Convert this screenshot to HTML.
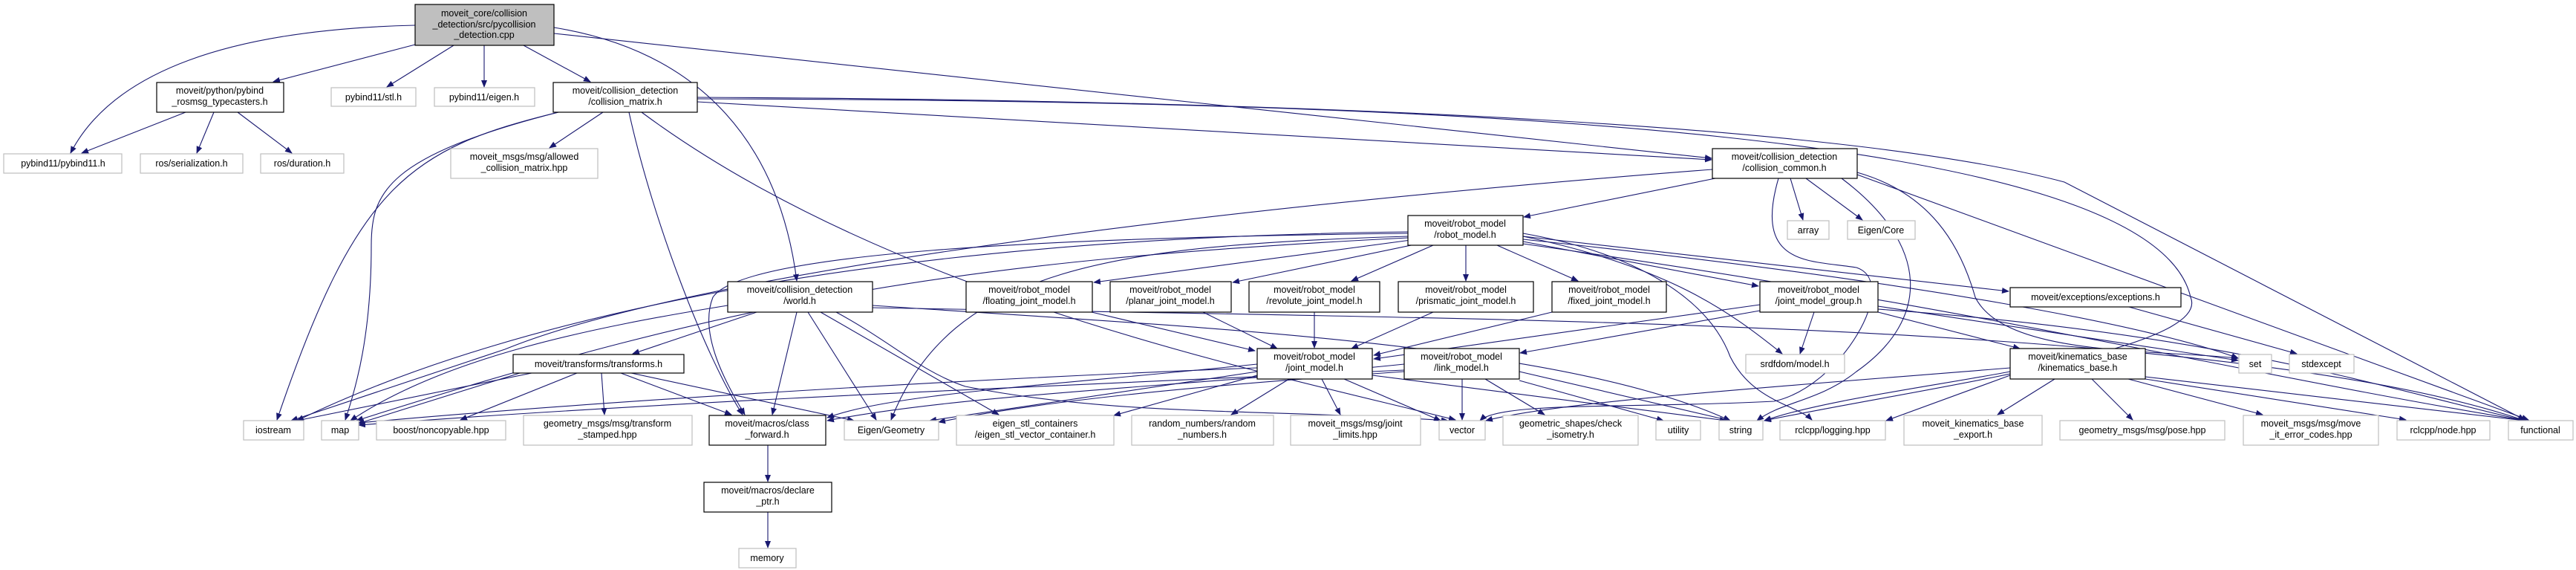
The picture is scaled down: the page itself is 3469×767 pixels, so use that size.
<!DOCTYPE html>
<html><head><meta charset="utf-8"><style>
html,body{margin:0;padding:0;background:#fff}
svg{display:block}
text{font-family:"Liberation Sans","DejaVu Sans",sans-serif;font-size:12.5px;fill:#000;text-anchor:middle}
.e{fill:none;stroke:#191970;stroke-width:1.1}
.b{fill:#fff;stroke:#000;stroke-width:1.2}
.g{fill:#fff;stroke:#bfbfbf;stroke-width:1.2}
</style></head><body>
<svg width="3469" height="767" viewBox="0 0 3469 767" xmlns="http://www.w3.org/2000/svg">
<defs><marker id="a" markerWidth="10" markerHeight="8" refX="9" refY="4" orient="auto" markerUnits="userSpaceOnUse"><path d="M0,0 L10,4 L0,8 z" fill="#191970"/></marker></defs>
<g marker-end="url(#a)" class="e">
<path class="e" d="M559,34 C300,40 150,100 95,206"/>
<path class="e" d="M559,60 L368,110"/>
<path class="e" d="M611,61 L521,117"/>
<path class="e" d="M652,61 L652,117"/>
<path class="e" d="M705,61 L795,110"/>
<path class="e" d="M746,37 C950,70 1050,200 1073,378"/>
<path class="e" d="M746,45 L2305,213"/>
<path class="e" d="M250,151 L110,206"/>
<path class="e" d="M288,151 L265,206"/>
<path class="e" d="M320,151 L393,206"/>
<path class="e" d="M812,151 L740,199"/>
<path class="e" d="M939,137 L2305,215"/>
<path class="e" d="M939,131 C1800,135 2500,170 2780,245 L3400,565"/>
<path class="e" d="M939,133 C2000,135 2900,180 2950,400 C2980,470 2600,520 2376,566"/>
<path class="e" d="M752,151 C550,200 480,250 373,565"/>
<path class="e" d="M752,151 C520,210 500,260 500,330 C500,450 480,520 465,565"/>
<path class="e" d="M847,151 C880,300 950,480 1000,558"/>
<path class="e" d="M864,151 C1200,400 1700,500 1960,565"/>
<path class="e" d="M2501,235 L3405,565"/>
<path class="e" d="M2310,240 L2052,292"/>
<path class="e" d="M2411,240 L2428,296"/>
<path class="e" d="M2432,240 L2508,296"/>
<path class="e" d="M2395,240 C2360,360 2440,350 2500,360 C2560,380 2480,520 2389,540 C2200,550 2020,540 1993,566"/>
<path class="e" d="M2501,232 C2600,260 2640,330 2660,400 C2700,480 2900,470 3014,482"/>
<path class="e" d="M2480,240 C2600,330 2600,430 2500,500 C2450,540 2400,540 2366,566"/>
<path class="e" d="M2306,228 C1500,290 900,380 680,470 L392,566"/>
<path class="e" d="M1900,323 L1473,380"/>
<path class="e" d="M1910,328 L1660,380"/>
<path class="e" d="M1930,330 L1820,378"/>
<path class="e" d="M1974,330 L1974,378"/>
<path class="e" d="M2016,330 L2125,378"/>
<path class="e" d="M2051,325 L2368,385"/>
<path class="e" d="M2051,318 L2705,392"/>
<path class="e" d="M2051,318 C2250,360 2330,420 2400,476"/>
<path class="e" d="M2051,314 C2200,340 2300,400 2330,480 C2360,540 2420,545 2440,565"/>
<path class="e" d="M1896,318 C1500,330 1280,360 1200,565"/>
<path class="e" d="M1896,314 C1400,320 1000,340 960,400 C940,450 980,520 1003,558"/>
<path class="e" d="M1896,312 C1200,320 700,420 400,566"/>
<path class="e" d="M1896,320 C1300,350 1000,400 480,566"/>
<path class="e" d="M2051,322 C2600,380 2900,440 3014,482"/>
<path class="e" d="M2051,328 C2700,420 3000,500 3400,566"/>
<path class="e" d="M1019,420 L852,476"/>
<path class="e" d="M980,411 C800,440 600,480 472,566"/>
<path class="e" d="M1073,420 L1040,558"/>
<path class="e" d="M1088,420 L1180,565"/>
<path class="e" d="M1105,420 L1345,558"/>
<path class="e" d="M1126,420 C1200,460 1240,500 1300,520 C1500,560 1700,550 1950,566"/>
<path class="e" d="M1175,411 C1600,440 2100,460 2330,566"/>
<path class="e" d="M1175,414 C2000,430 3000,430 3400,566"/>
<path class="e" d="M1470,420 L1690,472"/>
<path class="e" d="M1620,420 L1720,469"/>
<path class="e" d="M1770,420 L1770,468"/>
<path class="e" d="M1930,420 L1820,469"/>
<path class="e" d="M2090,420 L1850,478"/>
<path class="e" d="M2370,410 L1850,483"/>
<path class="e" d="M2370,418 L2047,475"/>
<path class="e" d="M2529,420 L2720,469"/>
<path class="e" d="M2443,420 L2424,476"/>
<path class="e" d="M2529,412 L3014,485"/>
<path class="e" d="M2529,416 C3000,450 3200,520 3400,566"/>
<path class="e" d="M1693,490 C1400,520 1200,530 1114,562"/>
<path class="e" d="M1693,500 L1252,566"/>
<path class="e" d="M1693,505 L1500,559"/>
<path class="e" d="M1736,510 L1658,558"/>
<path class="e" d="M1780,510 L1805,558"/>
<path class="e" d="M1810,510 L1940,566"/>
<path class="e" d="M1848,505 L2325,566"/>
<path class="e" d="M1693,495 C1300,510 800,540 472,570"/>
<path class="e" d="M1891,490 C1600,520 1300,530 1114,566"/>
<path class="e" d="M1891,500 C1600,520 1400,540 1264,568"/>
<path class="e" d="M1969,510 L1969,565"/>
<path class="e" d="M2000,510 L2080,558"/>
<path class="e" d="M2046,512 L2240,566"/>
<path class="e" d="M2046,500 L2330,566"/>
<path class="e" d="M1891,498 C1400,520 900,540 483,572"/>
<path class="e" d="M2767,510 L2690,558"/>
<path class="e" d="M2817,510 L2872,565"/>
<path class="e" d="M2866,510 L3047,558"/>
<path class="e" d="M2889,510 L3240,565"/>
<path class="e" d="M2889,507 L3400,566"/>
<path class="e" d="M2707,505 L2540,566"/>
<path class="e" d="M2707,500 C2600,520 2450,540 2376,566"/>
<path class="e" d="M2707,495 C2400,520 2100,540 2001,566"/>
<path class="e" d="M2867,413 L3093,476"/>
<path class="e" d="M716,502 L400,566"/>
<path class="e" d="M700,502 L482,570"/>
<path class="e" d="M777,502 L620,565"/>
<path class="e" d="M810,502 L814,558"/>
<path class="e" d="M836,502 L985,558"/>
<path class="e" d="M850,502 L1150,566"/>
<path class="e" d="M1034,599 L1034,648"/>
<path class="e" d="M1034,689 L1034,737"/>
</g>
<g>
<rect x="559" y="6" width="187" height="55" fill="#bfbfbf" stroke="#000" stroke-width="1.2"/>
<text x="652" y="22">moveit_core/collision</text><text x="652" y="37">_detection/src/pycollision</text><text x="652" y="51">_detection.cpp</text>
<rect class="b" x="211" y="111" width="171" height="40"/><text x="296" y="126">moveit/python/pybind</text><text x="296" y="141">_rosmsg_typecasters.h</text>
<rect class="g" x="446" y="118" width="114" height="25"/><text x="503" y="135">pybind11/stl.h</text>
<rect class="g" x="585" y="118" width="135" height="25"/><text x="652" y="135">pybind11/eigen.h</text>
<rect class="b" x="745" y="111" width="194" height="40"/><text x="842" y="126">moveit/collision_detection</text><text x="842" y="141">/collision_matrix.h</text>
<rect class="g" x="5" y="207" width="159" height="26"/><text x="85" y="224">pybind11/pybind11.h</text>
<rect class="g" x="189" y="207" width="138" height="26"/><text x="258" y="224">ros/serialization.h</text>
<rect class="g" x="351" y="207" width="112" height="26"/><text x="407" y="224">ros/duration.h</text>
<rect class="g" x="607" y="200" width="198" height="40"/><text x="706" y="215">moveit_msgs/msg/allowed</text><text x="706" y="230">_collision_matrix.hpp</text>
<rect class="b" x="2306" y="200" width="195" height="40"/><text x="2403" y="215">moveit/collision_detection</text><text x="2403" y="230">/collision_common.h</text>
<rect class="b" x="1896" y="290" width="155" height="40"/><text x="1973" y="305">moveit/robot_model</text><text x="1973" y="320">/robot_model.h</text>
<rect class="g" x="2407" y="297" width="56" height="25"/><text x="2435" y="314">array</text>
<rect class="g" x="2488" y="297" width="91" height="25"/><text x="2533" y="314">Eigen/Core</text>
<rect class="b" x="980" y="379" width="195" height="41"/><text x="1077" y="394">moveit/collision_detection</text><text x="1077" y="409">/world.h</text>
<rect class="b" x="1301" y="379" width="170" height="41"/><text x="1386" y="394">moveit/robot_model</text><text x="1386" y="409">/floating_joint_model.h</text>
<rect class="b" x="1495" y="379" width="163" height="41"/><text x="1576" y="394">moveit/robot_model</text><text x="1576" y="409">/planar_joint_model.h</text>
<rect class="b" x="1682" y="379" width="176" height="41"/><text x="1770" y="394">moveit/robot_model</text><text x="1770" y="409">/revolute_joint_model.h</text>
<rect class="b" x="1883" y="379" width="182" height="41"/><text x="1974" y="394">moveit/robot_model</text><text x="1974" y="409">/prismatic_joint_model.h</text>
<rect class="b" x="2090" y="379" width="154" height="41"/><text x="2167" y="394">moveit/robot_model</text><text x="2167" y="409">/fixed_joint_model.h</text>
<rect class="b" x="2370" y="379" width="159" height="41"/><text x="2449" y="394">moveit/robot_model</text><text x="2449" y="409">/joint_model_group.h</text>
<rect class="b" x="2707" y="387" width="230" height="26"/><text x="2822" y="404">moveit/exceptions/exceptions.h</text>
<rect class="b" x="691" y="477" width="230" height="25"/><text x="806" y="494">moveit/transforms/transforms.h</text>
<rect class="b" x="1693" y="469" width="155" height="41"/><text x="1770" y="484">moveit/robot_model</text><text x="1770" y="499">/joint_model.h</text>
<rect class="b" x="1891" y="469" width="155" height="41"/><text x="1968" y="484">moveit/robot_model</text><text x="1968" y="499">/link_model.h</text>
<rect class="g" x="2351" y="477" width="133" height="25"/><text x="2417" y="494">srdfdom/model.h</text>
<rect class="b" x="2707" y="469" width="182" height="41"/><text x="2798" y="484">moveit/kinematics_base</text><text x="2798" y="499">/kinematics_base.h</text>
<rect class="g" x="3015" y="477" width="44" height="25"/><text x="3037" y="494">set</text>
<rect class="g" x="3083" y="477" width="87" height="25"/><text x="3126" y="494">stdexcept</text>
<rect class="g" x="328" y="566" width="81" height="26"/><text x="368" y="583">iostream</text>
<rect class="g" x="433" y="566" width="50" height="26"/><text x="458" y="583">map</text>
<rect class="g" x="507" y="566" width="174" height="26"/><text x="594" y="583">boost/noncopyable.hpp</text>
<rect class="g" x="705" y="559" width="227" height="40"/><text x="818" y="574">geometry_msgs/msg/transform</text><text x="818" y="589">_stamped.hpp</text>
<rect class="b" x="955" y="559" width="157" height="40"/><text x="1033" y="574">moveit/macros/class</text><text x="1033" y="589">_forward.h</text>
<rect class="g" x="1137" y="566" width="127" height="26"/><text x="1200" y="583">Eigen/Geometry</text>
<rect class="g" x="1288" y="559" width="212" height="40"/><text x="1394" y="574">eigen_stl_containers</text><text x="1394" y="589">/eigen_stl_vector_container.h</text>
<rect class="g" x="1524" y="559" width="191" height="40"/><text x="1619" y="574">random_numbers/random</text><text x="1619" y="589">_numbers.h</text>
<rect class="g" x="1738" y="559" width="175" height="40"/><text x="1825" y="574">moveit_msgs/msg/joint</text><text x="1825" y="589">_limits.hpp</text>
<rect class="g" x="1938" y="566" width="62" height="26"/><text x="1969" y="583">vector</text>
<rect class="g" x="2024" y="559" width="182" height="40"/><text x="2115" y="574">geometric_shapes/check</text><text x="2115" y="589">_isometry.h</text>
<rect class="g" x="2230" y="566" width="60" height="26"/><text x="2260" y="583">utility</text>
<rect class="g" x="2315" y="566" width="59" height="26"/><text x="2344" y="583">string</text>
<rect class="g" x="2397" y="566" width="142" height="26"/><text x="2468" y="583">rclcpp/logging.hpp</text>
<rect class="g" x="2564" y="559" width="186" height="40"/><text x="2657" y="574">moveit_kinematics_base</text><text x="2657" y="589">_export.h</text>
<rect class="g" x="2774" y="566" width="222" height="26"/><text x="2885" y="583">geometry_msgs/msg/pose.hpp</text>
<rect class="g" x="3021" y="559" width="182" height="40"/><text x="3112" y="574">moveit_msgs/msg/move</text><text x="3112" y="589">_it_error_codes.hpp</text>
<rect class="g" x="3228" y="566" width="125" height="26"/><text x="3290" y="583">rclcpp/node.hpp</text>
<rect class="g" x="3378" y="566" width="87" height="26"/><text x="3421" y="583">functional</text>
<rect class="b" x="948" y="649" width="172" height="40"/><text x="1034" y="664">moveit/macros/declare</text><text x="1034" y="679">_ptr.h</text>
<rect class="g" x="995" y="738" width="77" height="26"/><text x="1033" y="755">memory</text>
</g>
</svg>
</body></html>
